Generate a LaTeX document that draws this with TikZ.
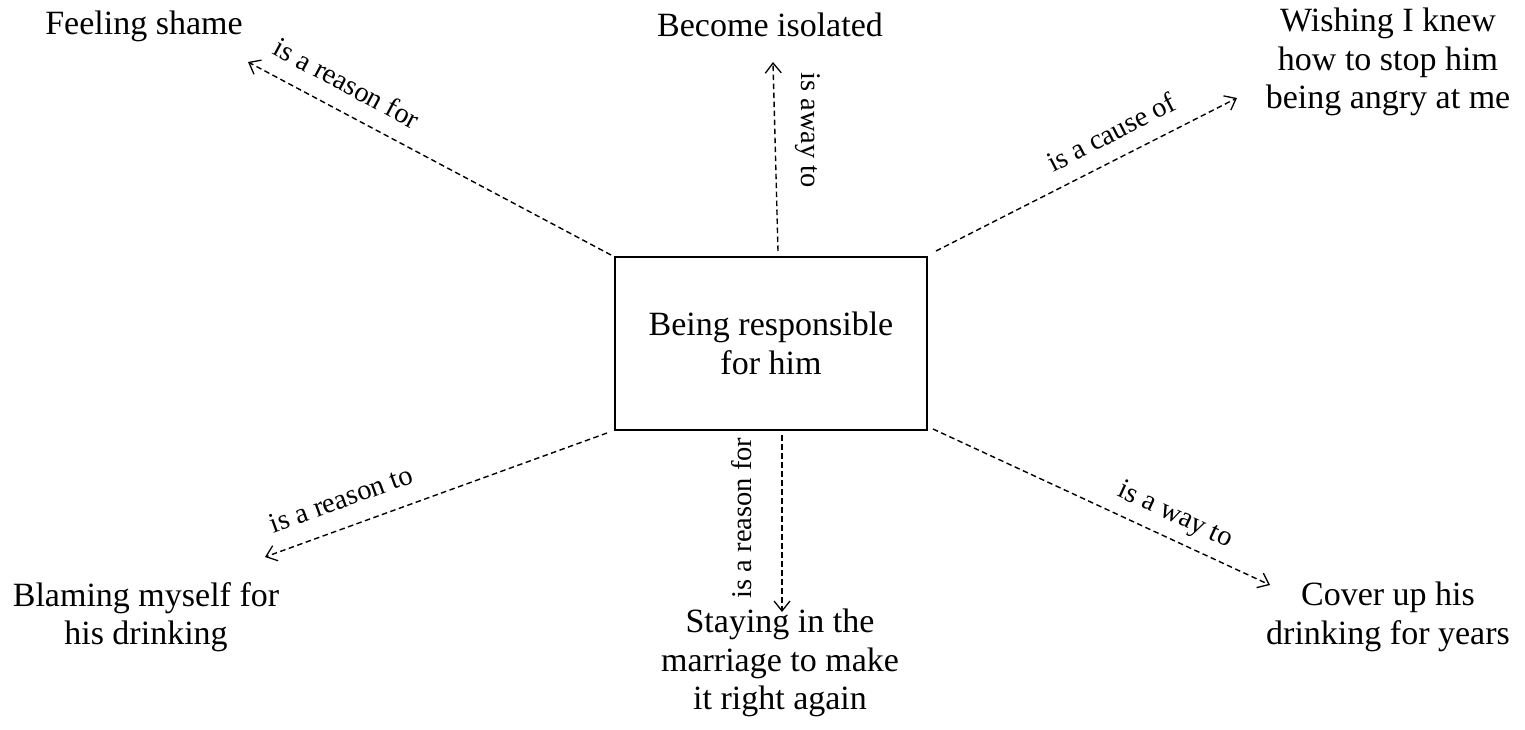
\documentclass[tikz,border=0pt]{standalone}
\usepackage{fontspec}
\setmainfont{Liberation Serif}
\usetikzlibrary{arrows.meta}
\begin{document}
\begin{tikzpicture}[x=1pt,y=-1pt,
  txt/.style={font=\fontsize{34}{38.5}\selectfont, align=center, inner sep=0pt},
  rel/.style={font=\fontsize{28.5}{32}\selectfont, inner sep=0pt},
  link/.style={line width=1.4pt, dash pattern=on 5.5pt off 3.5pt,
    -{Straight Barb[length=10pt,width=16pt,line width=1.3pt]}},
]
\useasboundingbox (0,0) rectangle (1525,730);
% central box
\node[draw, line width=2pt, minimum width=312pt, minimum height=173pt, txt] (c) at (771,343.5) {Being responsible\\for him};
% outer nodes
\node[txt] (shame) at (144,26) {Feeling shame};
\node[txt] (iso) at (770,25) {Become isolated};
\node[txt] (wish) at (1388,62) {Wishing I knew\\how to stop him\\being angry at me};
\node[txt] (blame) at (146,617) {Blaming myself for\\his drinking};
\node[txt] (stay) at (780,663) {Staying in the\\marriage to make\\it right again};
\node[txt] (cover) at (1388,617) {Cover up his\\drinking for years};
% arrow tips
\coordinate (t1) at (248,62);
\coordinate (t2) at (773,62);
\coordinate (t3) at (1237,98);
\coordinate (t4) at (265,557);
\coordinate (t5) at (782,612);
\coordinate (t6) at (1270,585);
% connectors
\draw[link] ([xshift=-3pt,yshift=1pt]c.north west) -- (t1);
\draw[link] ([xshift=7pt,yshift=5pt]c.north) -- (t2);
\draw[link] ([xshift=8pt,yshift=5pt]c.north east) -- (t3);
\draw[link] ([xshift=-7pt,yshift=-2pt]c.south west) -- (t4);
\draw[link] ([xshift=11pt,yshift=-4pt]c.south) -- (t5);
\draw[link] ([xshift=5pt,yshift=2pt]c.south east) -- (t6);
% relation labels
\node[rel, rotate=-28.2] (l1) at (347,83) {is a reason for};
\node[rel, rotate=-90] (l2) at (808,130) {is away to};
\node[rel, rotate=27.2] (l3) at (1111,132) {is a cause of};
\node[rel, rotate=20] (l4) at (341,499) {is a reason to};
\node[rel, rotate=90] (l5) at (742,518) {is a reason for};
\node[rel, rotate=-24.9] (l6) at (1175,516) {is a way to};
\end{tikzpicture}
\end{document}
